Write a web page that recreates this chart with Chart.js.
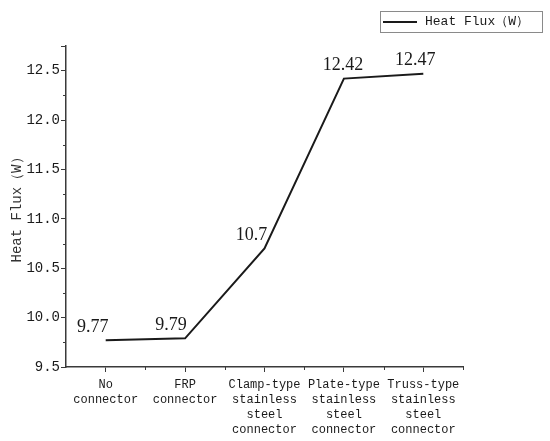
<!DOCTYPE html>
<html>
<head>
<meta charset="utf-8">
<script src="https://cdn.jsdelivr.net/npm/chart.js@4"></script>
<style>
  html, body { margin: 0; background: #fff; }
  #wrap { width: 550px; height: 441px; position: relative; }
</style>
</head>
<body>
<div id="wrap"><canvas id="heatChart"></canvas></div>
<script>
// data
const categories = [
    ['No', 'connector'],
    ['FRP', 'connector'],
    ['Clamp-type', 'stainless', 'steel', 'connector'],
    ['Plate-type', 'stainless', 'steel', 'connector'],
    ['Truss-type', 'stainless', 'steel', 'connector']
];
const heatFlux = [9.77, 9.79, 10.7, 12.42, 12.47];
const valueLabels = ['9.77', '9.79', '10.7', '12.42', '12.47'];
const seriesName = 'Heat Flux（W）';
const yMin = 9.5, yMax = 12.75;

const FONT = '"Liberation Mono", "DejaVu Sans Mono", monospace';
const SERIF = '"Liberation Serif", "DejaVu Serif", serif';
const INK = '#1a1a1a';
const AXIS = '#3a3a3a';

// where the value labels sit relative to their point
const labelShift = [-13, -14, -13, -1, -8];

const extras = {
    id: 'extras',
    afterDraw(chart) {
        const ctx = chart.ctx;
        const x = chart.scales.x, y = chart.scales.y;
        ctx.save();
        // minor ticks
        ctx.strokeStyle = AXIS;
        ctx.lineWidth = 1;
        ctx.beginPath();
        for (let v = yMin + 0.25; v < yMax; v += 0.5) {
            const py = Math.round(y.getPixelForValue(v)) + 0.5;
            ctx.moveTo(x.left, py);
            ctx.lineTo(x.left - 3, py);
        }
        const half = (x.getPixelForValue(1) - x.getPixelForValue(0)) / 2;
        for (let i = 0; i < categories.length; i++) {
            const px = Math.round(x.getPixelForValue(i) + half) + 0.5;
            ctx.moveTo(px, y.bottom);
            ctx.lineTo(px, y.bottom + 3);
        }
        ctx.stroke();

        // value labels
        const meta = chart.getDatasetMeta(0);
        ctx.fillStyle = INK;
        ctx.font = '18px ' + SERIF;
        ctx.textAlign = 'center';
        ctx.textBaseline = 'middle';
        meta.data.forEach((pt, i) => {
            ctx.fillText(valueLabels[i], pt.x + labelShift[i], pt.y - 13);
        });

        // legend box
        ctx.strokeStyle = '#8a8a8a';
        ctx.lineWidth = 1;
        ctx.strokeRect(380.5, 11.5, 162, 21);
        ctx.strokeStyle = INK;
        ctx.lineWidth = 2;
        ctx.beginPath();
        ctx.moveTo(383, 22);
        ctx.lineTo(417, 22);
        ctx.stroke();
        ctx.font = '13px ' + FONT;
        ctx.textAlign = 'left';
        ctx.fillText(chart.data.datasets[0].label, 425, 22);
        ctx.restore();
    }
};

new Chart(document.getElementById('heatChart'), {
    type: 'line',
    data: {
        labels: categories,
        datasets: [{
            label: seriesName,
            data: heatFlux,
            borderColor: INK,
            borderWidth: 2,
            pointRadius: 0,
            tension: 0,
            fill: false
        }]
    },
    options: {
        responsive: true,
        maintainAspectRatio: false,
        animation: false,
        layout: { padding: { left: 0, top: 46, right: 87, bottom: 0 } },
        plugins: {
            legend: { display: false },
            tooltip: { enabled: false }
        },
        scales: {
            x: {
                offset: true,
                afterFit(scale) { scale.height = 74; },
                grid: { display: true, drawOnChartArea: false, offset: false, tickLength: 5, color: AXIS },
                border: { display: true, color: AXIS, width: 1.5 },
                ticks: {
                    color: INK,
                    font: { family: FONT, size: 12, lineHeight: 1.25 },
                    padding: 5,
                    maxRotation: 0,
                    autoSkip: false
                }
            },
            y: {
                min: yMin,
                max: yMax,
                afterFit(scale) { scale.width = 66; },
                grid: { display: true, drawOnChartArea: false, tickLength: 5, color: AXIS },
                border: { display: true, color: AXIS, width: 1.5 },
                ticks: {
                    stepSize: 0.5,
                    color: INK,
                    font: { family: FONT, size: 14 },
                    padding: 1,
                    callback: v => (Math.abs(v * 2 - Math.round(v * 2)) < 1e-6 ? v.toFixed(1) : '')
                },
                title: {
                    display: true,
                    text: seriesName,
                    color: '#333',
                    font: { family: FONT, size: 14 },
                    padding: { top: 9, bottom: 0 }
                }
            }
        }
    },
    plugins: [extras]
});
</script>
</body>
</html>
